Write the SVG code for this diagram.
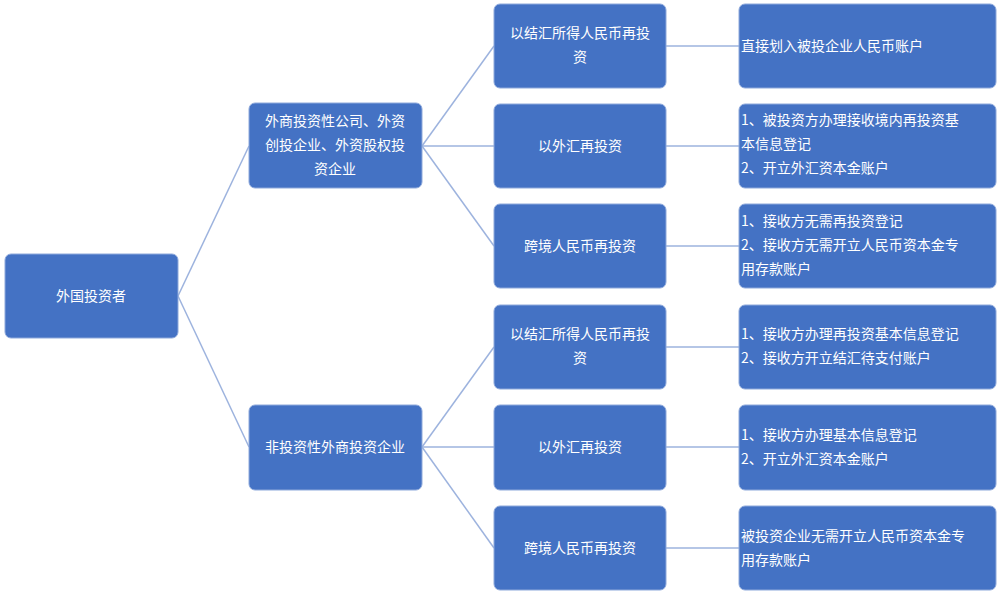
<svg xmlns="http://www.w3.org/2000/svg" width="1000" height="594" viewBox="0 0 1000 594">
<style>
.n{fill:#4472C4;stroke:#8EA9DB;stroke-width:1}
text{font-family:"Noto Sans CJK SC","Liberation Sans",sans-serif;font-size:14px;fill:#fff}
.c{text-anchor:middle}
.e line{stroke:#9DB3DE;stroke-width:1.5}
</style>
<rect width="1000" height="594" fill="#fff"/>
<g class="e">
<line x1="178" y1="296" x2="249" y2="146"/><line x1="178" y1="296" x2="249" y2="447"/>
<line x1="422" y1="146" x2="494" y2="46"/><line x1="422" y1="146" x2="494" y2="146"/><line x1="422" y1="146" x2="494" y2="246"/>
<line x1="422" y1="447" x2="494" y2="347"/><line x1="422" y1="447" x2="494" y2="447"/><line x1="422" y1="447" x2="494" y2="548"/>
<line x1="666" y1="46" x2="739" y2="46"/><line x1="666" y1="146" x2="739" y2="146"/><line x1="666" y1="246" x2="739" y2="246"/>
<line x1="666" y1="347" x2="739" y2="347"/><line x1="666" y1="447" x2="739" y2="447"/><line x1="666" y1="548" x2="739" y2="548"/>
</g>
<g id="root"><rect class="n" x="5" y="254" width="173" height="84" rx="6"/><text class="c" x="91" y="301">外国投资者</text></g>
<g id="a"><rect class="n" x="249" y="103" width="173" height="85" rx="6"/><text class="c" x="335" y="126">外商投资性公司、外资</text><text class="c" x="335" y="150">创投企业、外资股权投</text><text class="c" x="335" y="174">资企业</text></g>
<g id="b"><rect class="n" x="249" y="405" width="173" height="85" rx="6"/><text class="c" x="335" y="452">非投资性外商投资企业</text></g>
<g id="a1"><rect class="n" x="494" y="4" width="172" height="84" rx="6"/><text class="c" x="580" y="38">以结汇所得人民币再投</text><text class="c" x="580" y="62">资</text></g>
<g id="a2"><rect class="n" x="494" y="104" width="172" height="84" rx="6"/><text class="c" x="580" y="151">以外汇再投资</text></g>
<g id="a3"><rect class="n" x="494" y="204" width="172" height="84" rx="6"/><text class="c" x="580" y="251">跨境人民币再投资</text></g>
<g id="b1"><rect class="n" x="494" y="305" width="172" height="84" rx="6"/><text class="c" x="580" y="339">以结汇所得人民币再投</text><text class="c" x="580" y="363">资</text></g>
<g id="b2"><rect class="n" x="494" y="405" width="172" height="85" rx="6"/><text class="c" x="580" y="452">以外汇再投资</text></g>
<g id="b3"><rect class="n" x="494" y="506" width="172" height="84" rx="6"/><text class="c" x="580" y="553">跨境人民币再投资</text></g>
<g id="a1r"><rect class="n" x="739" y="4" width="257" height="84" rx="6"/><text x="741" y="51">直接划入被投企业人民币账户</text></g>
<g id="a2r"><rect class="n" x="739" y="104" width="257" height="84" rx="6"/><text x="741" y="125">1、被投资方办理接收境内再投资基</text><text x="741" y="149">本信息登记</text><text x="741" y="173">2、开立外汇资本金账户</text></g>
<g id="a3r"><rect class="n" x="739" y="204" width="257" height="84" rx="6"/><text x="741" y="226">1、接收方无需再投资登记</text><text x="741" y="250">2、接收方无需开立人民币资本金专</text><text x="741" y="274">用存款账户</text></g>
<g id="b1r"><rect class="n" x="739" y="305" width="257" height="84" rx="6"/><text x="741" y="339">1、接收方办理再投资基本信息登记</text><text x="741" y="363">2、接收方开立结汇待支付账户</text></g>
<g id="b2r"><rect class="n" x="739" y="405" width="257" height="85" rx="6"/><text x="741" y="440">1、接收方办理基本信息登记</text><text x="741" y="464">2、开立外汇资本金账户</text></g>
<g id="b3r"><rect class="n" x="739" y="506" width="257" height="84" rx="6"/><text x="741" y="541">被投资企业无需开立人民币资本金专</text><text x="741" y="565">用存款账户</text></g>
</svg>
